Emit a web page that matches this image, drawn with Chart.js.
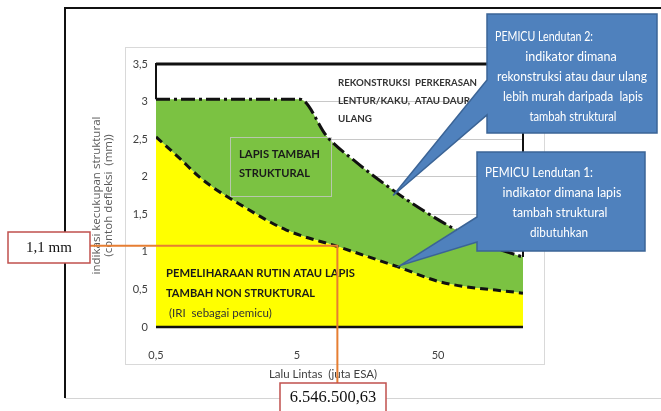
<!DOCTYPE html>
<html>
<head>
<meta charset="utf-8">
<script src="https://cdn.jsdelivr.net/npm/chart.js@4.4.1/dist/chart.umd.min.js"></script>
<style>
  html, body { margin: 0; padding: 0; background: #fff; }
  canvas { display: block; }
</style>
</head>
<body>
<canvas id="chart" width="661" height="411"></canvas>
<script>
// Chart data (x = lalu lintas, juta ESA, log axis; y = defleksi, mm)
const xTicks = [0.5, 5, 50];
const yTicks = [0, 0.5, 1, 1.5, 2, 2.5, 3, 3.5];

// Pemicu lendutan 2 (reconstruction trigger, dash-dot)
const trigger2X = [0.5, 5.25, 8.2, 13, 21.3, 33.7, 59, 101, 200];
const trigger2Y = [3.03, 3.03, 2.53, 2.2, 1.89, 1.63, 1.35, 1.12, 0.93];

// Pemicu lendutan 1 (structural overlay trigger, dashed)
const trigger1X = [0.5, 0.73, 1.07, 2.1, 4.2, 9.7, 26, 52, 200];
const trigger1Y = [2.53, 2.25, 1.96, 1.6, 1.29, 1.07, 0.8, 0.6, 0.45];

// Orange reading lines
const markX = 9.66;
const markY = 1.08;
const markXLabel = '6.546.500,63';
const markYLabel = '1,1 mm';

// Where the callout pointers touch the curves
const tip2 = { x: 24, y: 1.75 };
const tip1 = { x: 27, y: 0.82 };

const fmt = v => String(v).replace('.', ',');
const toPoints = (xs, ys) => xs.map((x, i) => ({ x: x, y: ys[i] }));

function text(ctx, str, x, y, font, color, align, maxW) {
    ctx.font = font;
    ctx.fillStyle = color;
    ctx.textAlign = align || 'left';
    ctx.textBaseline = 'middle';
    if (maxW) ctx.fillText(str, x, y, maxW);
    else ctx.fillText(str, x, y);
}

function callout(ctx, r, base, tip) {
    ctx.beginPath();
    ctx.moveTo(r.l, r.t);
    ctx.lineTo(r.r, r.t);
    ctx.lineTo(r.r, r.b);
    ctx.lineTo(r.l, r.b);
    ctx.lineTo(r.l, base[1]);
    ctx.lineTo(tip.x, tip.y);
    ctx.lineTo(r.l, base[0]);
    ctx.closePath();
    ctx.fillStyle = '#4f81bd';
    ctx.fill();
    ctx.strokeStyle = '#3b6496';
    ctx.lineWidth = 1.5;
    ctx.stroke();
}

const decor = {
    id: 'decor',
    beforeDraw(chart) {
        const ctx = chart.ctx;
        ctx.save();
        ctx.fillStyle = '#fff';
        ctx.fillRect(0, 0, chart.width, chart.height);
        // outer frame
        ctx.strokeStyle = '#d4d4d4';
        ctx.lineWidth = 1;
        ctx.beginPath();
        ctx.moveTo(65, 398.5); ctx.lineTo(661, 398.5);
        ctx.stroke();
        ctx.strokeStyle = '#111';
        ctx.lineWidth = 2;
        ctx.beginPath();
        ctx.moveTo(65, 398); ctx.lineTo(65, 8); ctx.lineTo(661, 8);
        ctx.stroke();
        // inner chart frame
        ctx.strokeStyle = '#d9d9d9';
        ctx.lineWidth = 1;
        ctx.strokeRect(125.5, 47.5, 419, 317);
        ctx.restore();
    },
    afterDatasetsDraw(chart) {
        const ctx = chart.ctx;
        const a = chart.chartArea;
        const xs = chart.scales.x, ys = chart.scales.y;
        ctx.save();

        // plot outline around the white region
        ctx.strokeStyle = '#111';
        ctx.lineWidth = 2;
        ctx.beginPath();
        ctx.moveTo(a.left, ys.getPixelForValue(trigger2Y[0]));
        ctx.lineTo(a.left, a.top);
        ctx.lineTo(a.right, a.top);
        ctx.lineTo(a.right, ys.getPixelForValue(trigger2Y[trigger2Y.length - 1]));
        ctx.stroke();
        ctx.lineWidth = 3;
        ctx.beginPath();
        ctx.moveTo(a.left, a.top); ctx.lineTo(a.right, a.top);
        ctx.stroke();
        ctx.lineWidth = 2.5;
        ctx.beginPath();
        ctx.moveTo(a.left, a.bottom); ctx.lineTo(a.right, a.bottom);
        ctx.stroke();

        // region labels
        const bold = 'bold 11.5px Lato';
        text(ctx, 'REKONSTRUKSI  PERKERASAN', 338, 83, 'bold 10px Lato', '#333', 'left', 139);
        text(ctx, 'LENTUR/KAKU,  ATAU DAUR', 338, 101, 'bold 10px Lato', '#333', 'left', 132);
        text(ctx, 'ULANG', 338, 119, 'bold 10px Lato', '#333', 'left', 34);

        ctx.strokeStyle = 'rgba(200,200,200,0.8)';
        ctx.lineWidth = 1;
        ctx.strokeRect(230.5, 137.5, 101, 59);
        text(ctx, 'LAPIS TAMBAH', 239, 154, bold, '#1a1a1a', 'left', 81);
        text(ctx, 'STRUKTURAL', 239, 173, bold, '#1a1a1a', 'left', 71);

        text(ctx, 'PEMELIHARAAN RUTIN ATAU LAPIS', 166, 273, bold, '#1a1a1a', 'left', 189);
        text(ctx, 'TAMBAH NON STRUKTURAL', 166, 293, bold, '#1a1a1a', 'left', 149);
        text(ctx, '(IRI  sebagai pemicu)', 169, 313, '11.5px Lato', '#333', 'left', 112);

        // x axis title
        text(ctx, 'Lalu Lintas  (juta ESA)', 323, 374, '11.5px Lato', '#404040', 'center', 110);

        // orange reading lines
        const mx = xs.getPixelForValue(markX);
        const my = ys.getPixelForValue(markY);
        ctx.strokeStyle = '#e67e32';
        ctx.lineWidth = 2;
        ctx.beginPath();
        ctx.moveTo(90, my); ctx.lineTo(mx, my); ctx.lineTo(mx, 383);
        ctx.stroke();

        // value boxes
        ctx.fillStyle = '#fff';
        ctx.strokeStyle = '#c0504d';
        ctx.lineWidth = 1.5;
        ctx.fillRect(8, 232, 82, 31);
        ctx.strokeRect(8, 232, 82, 31);
        text(ctx, markYLabel, 49, 248, '15px "Liberation Serif"', '#111', 'center');
        ctx.fillStyle = '#fff';
        ctx.fillRect(280, 383, 106, 40);
        ctx.strokeRect(280, 383, 106, 40);
        text(ctx, markXLabel, 333, 398, '16.5px "Liberation Serif"', '#111', 'center');

        ctx.restore();
    },
    afterDraw(chart) {
        const ctx = chart.ctx;
        const xs = chart.scales.x, ys = chart.scales.y;
        ctx.save();
        const t2 = { x: xs.getPixelForValue(tip2.x), y: ys.getPixelForValue(tip2.y) };
        const t1 = { x: xs.getPixelForValue(tip1.x), y: ys.getPixelForValue(tip1.y) };
        callout(ctx, { l: 487, t: 14, r: 657, b: 133 }, [80, 115], t2);
        callout(ctx, { l: 477, t: 152, r: 645, b: 251 }, [217, 242], t1);

        const f = '12.5px Lato', w = '#fff';
        text(ctx, 'PEMICU Lendutan 2:', 495, 37, f, w, 'left', 98);
        text(ctx, 'indikator dimana', 571, 57, f, w, 'center', 93);
        text(ctx, 'rekonstruksi atau daur ulang', 572, 77, f, w, 'center', 150);
        text(ctx, 'lebih murah daripada  lapis', 573, 97, f, w, 'center', 140);
        text(ctx, 'tambah struktural', 573, 117, f, w, 'center', 87);

        text(ctx, 'PEMICU Lendutan 1:', 485, 173, f, w, 'left', 108);
        text(ctx, 'indikator dimana lapis', 562, 193, f, w, 'center', 119);
        text(ctx, 'tambah struktural', 560, 213, f, w, 'center', 95);
        text(ctx, 'dibutuhkan', 559, 233, f, w, 'center', 58);
        ctx.restore();
    }
};

const ctx = document.getElementById('chart').getContext('2d');
new Chart(ctx, {
    type: 'line',
    data: {
        datasets: [
            {
                label: 'Pemicu Lendutan 1',
                data: toPoints(trigger1X, trigger1Y),
                borderColor: '#111',
                borderWidth: 3,
                borderDash: [8, 5],
                backgroundColor: '#ffff00',
                fill: 'origin',
                pointRadius: 0,
                cubicInterpolationMode: 'monotone',
                order: 1
            },
            {
                label: 'Pemicu Lendutan 2',
                data: toPoints(trigger2X, trigger2Y),
                borderColor: '#111',
                borderWidth: 3,
                borderDash: [14, 4, 3, 4],
                backgroundColor: '#7bc242',
                fill: 0,
                pointRadius: 0,
                cubicInterpolationMode: 'monotone',
                order: 2
            }
        ]
    },
    options: {
        responsive: false,
        animation: false,
        devicePixelRatio: 1,
        layout: { padding: { left: 80, top: 64, right: 138, bottom: 31 } },
        plugins: { legend: { display: false }, tooltip: { enabled: false } },
        scales: {
            x: {
                type: 'logarithmic',
                min: 0.5,
                max: 200,
                afterBuildTicks: s => { s.ticks = xTicks.map(v => ({ value: v })); },
                afterFit: s => { s.height = 53; },
                grid: { display: false },
                border: { display: false },
                ticks: {
                    padding: 14,
                    color: '#404040',
                    font: { family: 'Lato', size: 11 },
                    maxRotation: 0,
                    autoSkip: false,
                    callback: v => fmt(v)
                }
            },
            y: {
                min: 0,
                max: 3.5,
                afterBuildTicks: s => { s.ticks = yTicks.map(v => ({ value: v })); },
                afterFit: s => { s.width = 76; },
                grid: { color: '#c8c8c8', lineWidth: 1, drawTicks: false },
                border: { display: false },
                ticks: {
                    padding: 8,
                    color: '#404040',
                    font: { family: 'Lato', size: 11 },
                    callback: v => fmt(v)
                },
                title: {
                    display: true,
                    text: ['indikasi kecukupan struktural', '(contoh defleksi  (mm))'],
                    color: '#595959',
                    font: { family: 'Open Sans', size: 11.5, lineHeight: 1.0 },
                    padding: { top: 11, bottom: 0 }
                }
            }
        }
    },
    plugins: [decor]
});
</script>
</body>
</html>
